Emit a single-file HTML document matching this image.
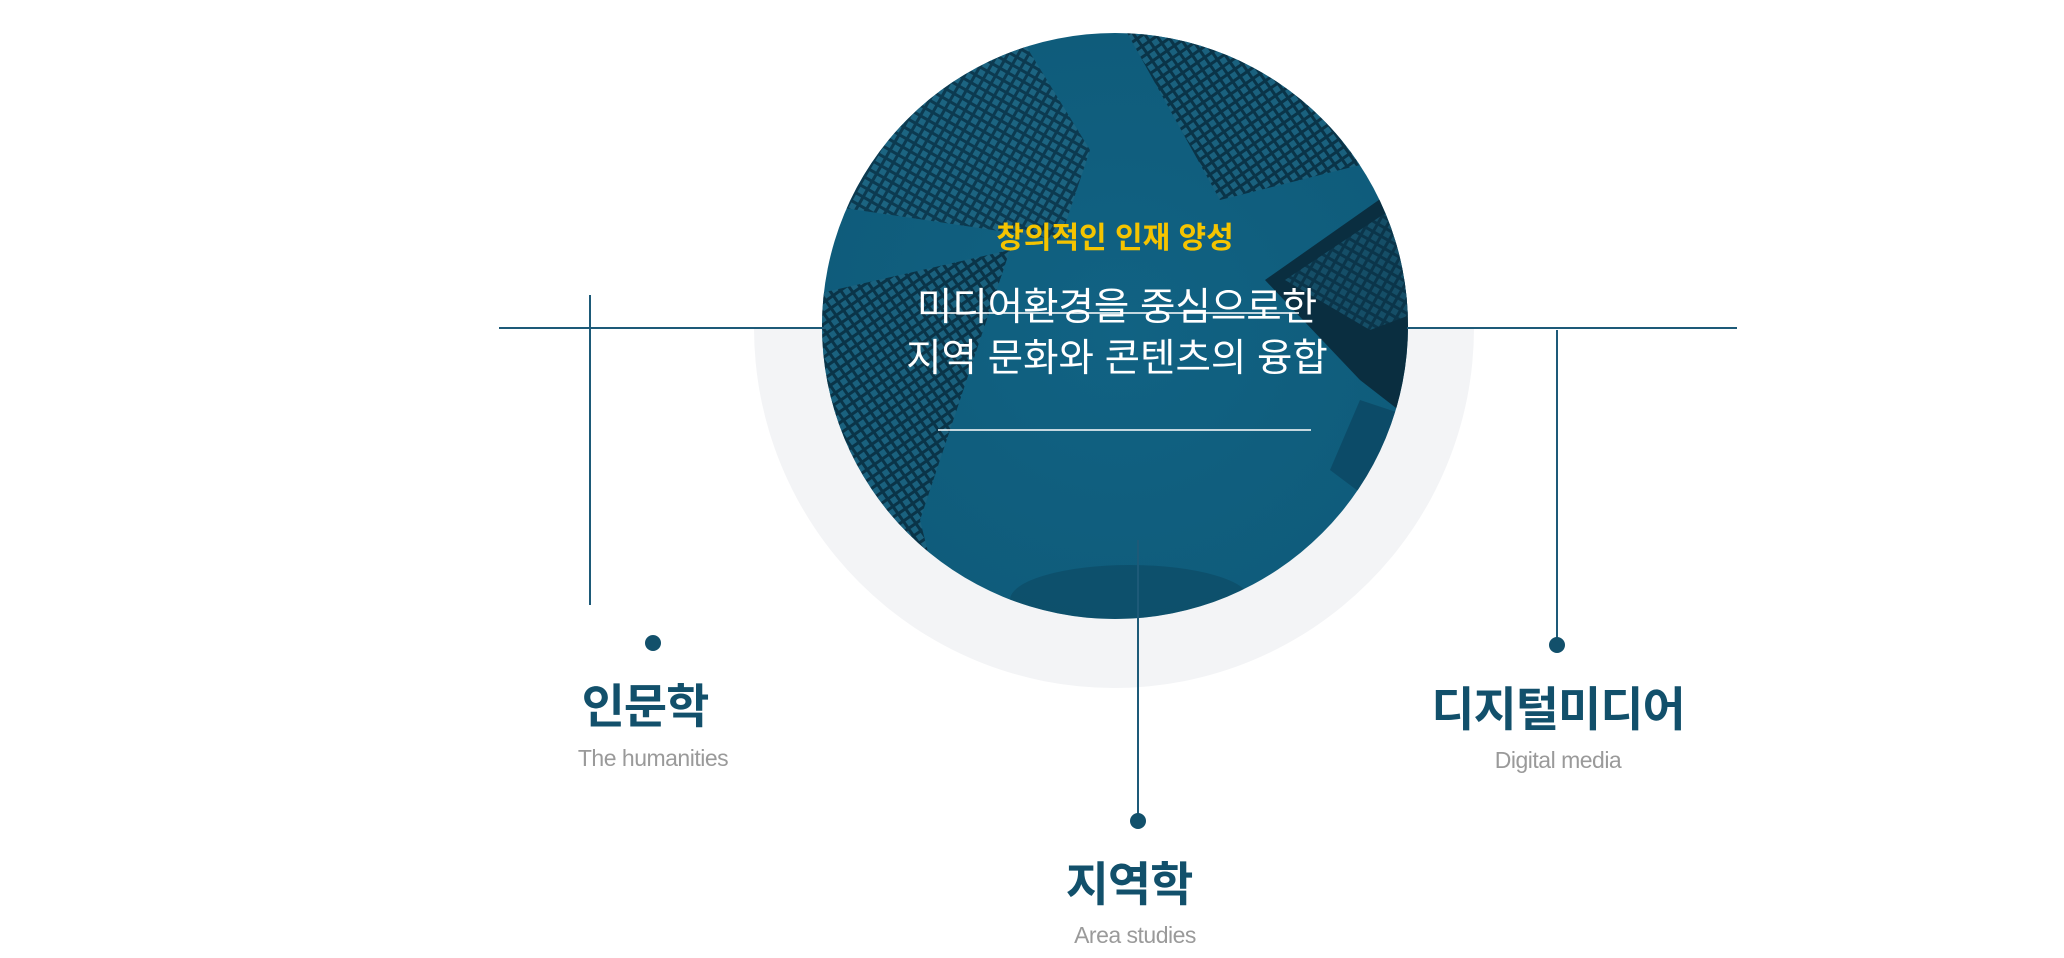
<!DOCTYPE html>
<html><head><meta charset="utf-8"><style>
html,body{margin:0;padding:0;background:#fff;}
body{width:2064px;height:958px;position:relative;overflow:hidden;font-family:"Liberation Sans","Noto Sans CJK KR",sans-serif;}
.t{position:absolute;transform:translateX(-50%);white-space:nowrap;text-align:center;}
.k{color:#12506b;font-size:47px;font-weight:bold;letter-spacing:-1px;}
.e{color:#9a9a9a;font-size:23px;letter-spacing:-0.5px;}
</style></head><body>
<svg width="2064" height="958" style="position:absolute;left:0;top:0">
<defs>
<clipPath id="c"><circle cx="1115" cy="326" r="293"/></clipPath>
<pattern id="g" width="9" height="9" patternUnits="userSpaceOnUse" patternTransform="rotate(30)">
<rect width="9" height="9" fill="#0c3a50"/><rect x="1.5" y="1.5" width="6" height="6" fill="#1c6481"/></pattern>
<pattern id="g2" width="9" height="9" patternUnits="userSpaceOnUse" patternTransform="rotate(-35)">
<rect width="9" height="9" fill="#0a3448"/><rect x="1.5" y="1.5" width="6" height="6" fill="#1a617e"/></pattern>
<radialGradient id="rg" cx="0.5" cy="0.5" r="0.6"><stop offset="0" stop-color="#116283"/><stop offset="0.8" stop-color="#0f5c7b"/><stop offset="1" stop-color="#0b4862"/></radialGradient>
</defs>
<path d="M754 328 A360 360 0 0 0 1474 328 Z" fill="#f3f4f6"/>
<g clip-path="url(#c)">
<rect x="800" y="20" width="640" height="620" fill="url(#rg)"/>
<polygon points="1010,20 1090,150 1060,240 790,200 790,20" fill="url(#g)"/>
<polygon points="1120,20 1450,20 1450,180 1360,165 1220,200" fill="url(#g2)"/>
<polygon points="1265,280 1450,150 1450,450 1360,380" fill="#0a2e40"/>
<polygon points="1285,280 1450,170 1450,300 1370,330" fill="url(#g)" opacity="0.6"/>
<polygon points="790,300 1010,250 920,520 930,560 790,560" fill="url(#g2)"/>
<polygon points="1360,400 1450,430 1450,560 1330,470" fill="#0c4460" opacity="0.7"/>
<ellipse cx="1130" cy="600" rx="120" ry="35" fill="#0a3e56" opacity="0.4"/>
</g>
<line x1="499" y1="328" x2="825" y2="328" stroke="#1d5a78" stroke-width="2"/>
<line x1="1407" y1="328" x2="1737" y2="328" stroke="#1d5a78" stroke-width="2"/>
<line x1="590" y1="295" x2="590" y2="605" stroke="#1d5a78" stroke-width="2"/>
<line x1="1557" y1="330" x2="1557" y2="645" stroke="#1d5a78" stroke-width="2"/>
<line x1="1138" y1="540" x2="1138" y2="821" stroke="#1d5a78" stroke-width="2"/>
<circle cx="653" cy="643" r="8" fill="#12506b"/>
<circle cx="1557" cy="645" r="8" fill="#12506b"/>
<circle cx="1138" cy="821" r="8" fill="#12506b"/>
<line x1="925" y1="313" x2="1299" y2="313" stroke="#ffffff" stroke-width="1.5"/>
<line x1="938" y1="430" x2="1311" y2="430" stroke="#ffffff" stroke-width="1.5"/>
</svg>
<div class="t" style="left:1115px;top:213px;color:#f5c400;font-size:30px;font-weight:bold;">창의적인 인재 양성</div>
<div class="t" style="left:1117px;top:282px;color:#fff;font-size:38.5px;line-height:51px;">미디어환경을 중심으로한<br>지역 문화와 콘텐츠의 융합</div>
<div class="t k" style="left:645px;top:668px;">인문학</div>
<div class="t e" style="left:653px;top:745px;">The humanities</div>
<div class="t k" style="left:1558px;top:671px;">디지털미디어</div>
<div class="t e" style="left:1558px;top:747px;">Digital media</div>
<div class="t k" style="left:1129px;top:846px;">지역학</div>
<div class="t e" style="left:1135px;top:922px;">Area studies</div>
</body></html>
